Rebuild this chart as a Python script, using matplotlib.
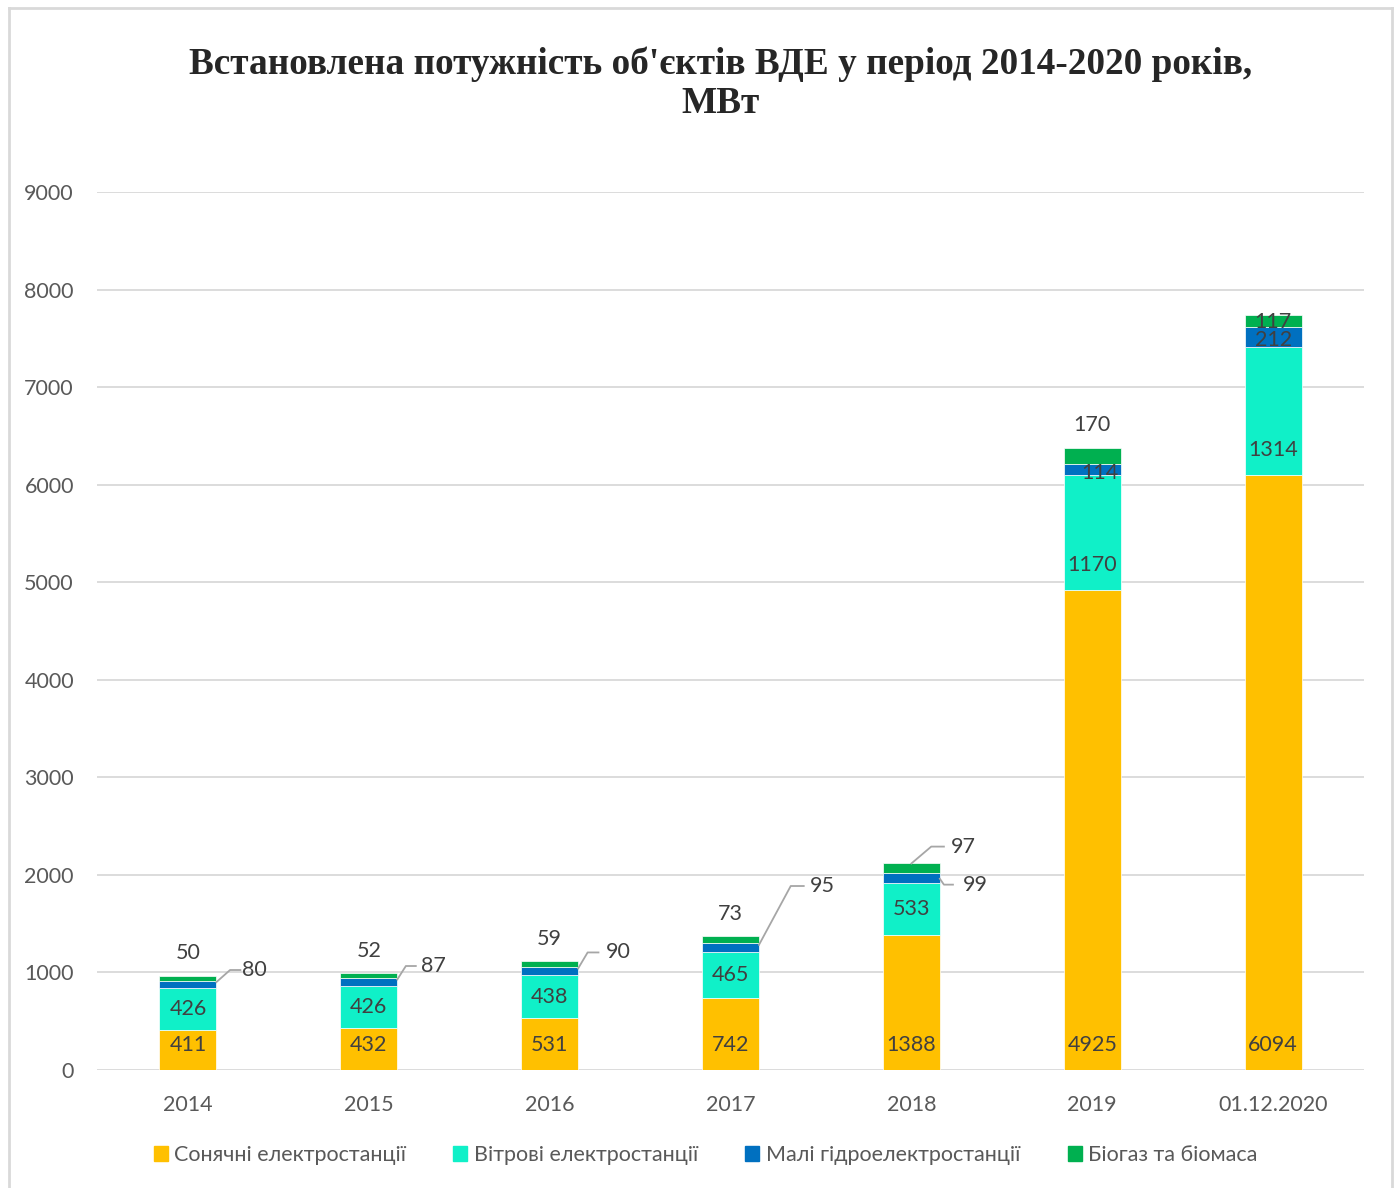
import numpy as np
import matplotlib
matplotlib.use('Agg')
import matplotlib.pyplot as plt
from matplotlib.lines import Line2D

# дані
years = ['2014', '2015', '2016', '2017', '2018', '2019', '01.12.2020']
solar = [411, 432, 531, 742, 1388, 4925, 6094]
wind = [426, 426, 438, 465, 533, 1170, 1314]
hydro = [80, 87, 90, 95, 99, 114, 212]
bio = [50, 52, 59, 73, 97, 170, 117]
series_names = ['Сонячні електростанції', 'Вітрові електростанції',
                'Малі гідроелектростанції', 'Біогаз та біомаса']
colors = ['#FFC000', '#10F0C8', '#0070C0', '#00B050']

plt.rcParams['font.family'] = ['Lato', 'DejaVu Sans']
txt_col = '#404040'
tick_col = '#595959'

fig = plt.figure(figsize=(13.97, 11.88), dpi=100)
ax = fig.add_axes([97.5/1397, 1 - 1070/1188, 1266/1397, (1070-192)/1188])

x = np.arange(len(years))
w = 0.315
bottom = np.zeros(len(years))
for vals, c in zip([solar, wind, hydro, bio], colors):
    ax.bar(x, vals, w, bottom=bottom, color=c, edgecolor='white', linewidth=0.5, zorder=3)
    bottom += np.array(vals)

ax.set_xlim(-0.5, len(years) - 0.5)
ax.set_ylim(0, 9000)
ax.set_yticks(range(0, 9001, 1000))
ax.set_xticks(x)
ax.set_xticklabels(years)
ax.grid(axis='y', color='#D9D9D9', linewidth=1.3, zorder=0)
for s in ax.spines.values():
    s.set_visible(False)
ax.tick_params(length=0, labelsize=15.5, colors=tick_col)
ax.tick_params(axis='x', pad=18)
ax.tick_params(axis='y', pad=17)

fs = 15.5
s = np.array(solar)
wd = np.array(wind)
hy = np.array(hydro)
bi = np.array(bio)

# сонячні - біля основи
for i in range(len(years)):
    ax.annotate(str(solar[i]), (x[i], 0), xytext=(0, 18), textcoords='offset points',
                ha='center', va='center', fontsize=fs, color=txt_col, zorder=5)

# вітрові
for i in range(len(years)):
    if i >= 5:
        ax.annotate(str(wind[i]), (x[i], s[i]), xytext=(0, 18), textcoords='offset points',
                    ha='center', va='center', fontsize=fs, color=txt_col, zorder=5)
    else:
        ax.text(x[i], s[i] + wd[i] / 2, str(wind[i]), ha='center', va='center',
                fontsize=fs, color=txt_col, zorder=5)

# гідро з виносками
hydro_lab = {0: (0.233, 1025, 0.29, 0.37),
             1: (0.205, 1066, 0.26, 0.36),
             2: (0.21, 1205, 0.27, 0.38),
             3: (0.333, 1886, 0.405, 0.51),
             4: (0.18, 1900, 0.23, 0.355)}
lc = '#A6A6A6'
for i, (ex, ey, hx, lx) in hydro_lab.items():
    top_h = s[i] + wd[i] + hy[i]
    sy = top_h - hy[i] * 0.2 if i < 4 else s[i] + wd[i] + hy[i] * 0.4
    ax.plot([x[i] + w / 2, x[i] + ex, x[i] + hx], [sy, ey, ey], color=lc, lw=1.3,
            zorder=4, clip_on=False)
    ax.text(x[i] + lx, ey, str(hydro[i]), ha='center', va='center', fontsize=fs,
            color=txt_col, zorder=5)
for i in [5, 6]:
    dx = 0.045 if i == 5 else 0
    ax.text(x[i] + dx, s[i] + wd[i] + hy[i] / 2 - 30, str(hydro[i]), ha='center', va='center',
            fontsize=fs, color=txt_col, zorder=5)

# біогаз
tot = s + wd + hy + bi
for i in [0, 1, 2, 3, 5]:
    ax.annotate(str(bio[i]), (x[i], tot[i]), xytext=(0, 16), textcoords='offset points',
                ha='center', va='center', fontsize=fs, color=txt_col, zorder=5)
# 2018 з виноскою
i = 4
ax.plot([x[i], x[i] + 0.11, x[i] + 0.18], [tot[i], 2290, 2290], color=lc, lw=1.3, zorder=4)
ax.text(x[i] + 0.29, 2290, str(bio[i]), ha='center', va='center', fontsize=fs,
        color=txt_col, zorder=5)
# 2020 всередині
i = 6
ax.text(x[i], s[i] + wd[i] + hy[i] + bi[i] / 2 - 10, str(bio[i]), ha='center', va='center',
        fontsize=fs, color=txt_col, zorder=5)

# заголовок
fig.text(0.516, 1 - 84/1188,
         "Встановлена потужність об'єктів ВДЕ у період 2014-2020 років,\nМВт",
         ha='center', va='center', fontsize=26.8, fontweight='bold', color='#262626',
         family=['Liberation Serif', 'DejaVu Serif'], linespacing=1.15)

# легенда
handles = [plt.Rectangle((0, 0), 1, 1, color=c) for c in colors]
fig.legend(handles, series_names, loc='center', bbox_to_anchor=(0.505, 1 - 1155/1188),
           ncol=4, frameon=False, fontsize=15.5, labelcolor=tick_col,
           handlelength=0.65, handleheight=0.65, handletextpad=0.3, columnspacing=2.2)

# рамка
fig.add_artist(Line2D([9/1397, 9/1397], [0, 1 - 8/1188], color='#D9D9D9', lw=2))
fig.add_artist(Line2D([9/1397, 1392/1397], [1 - 8/1188, 1 - 8/1188], color='#D9D9D9', lw=2))
fig.add_artist(Line2D([1392/1397, 1392/1397], [0, 1 - 8/1188], color='#D9D9D9', lw=2))

fig.savefig('out.png', dpi=100, facecolor='white')
